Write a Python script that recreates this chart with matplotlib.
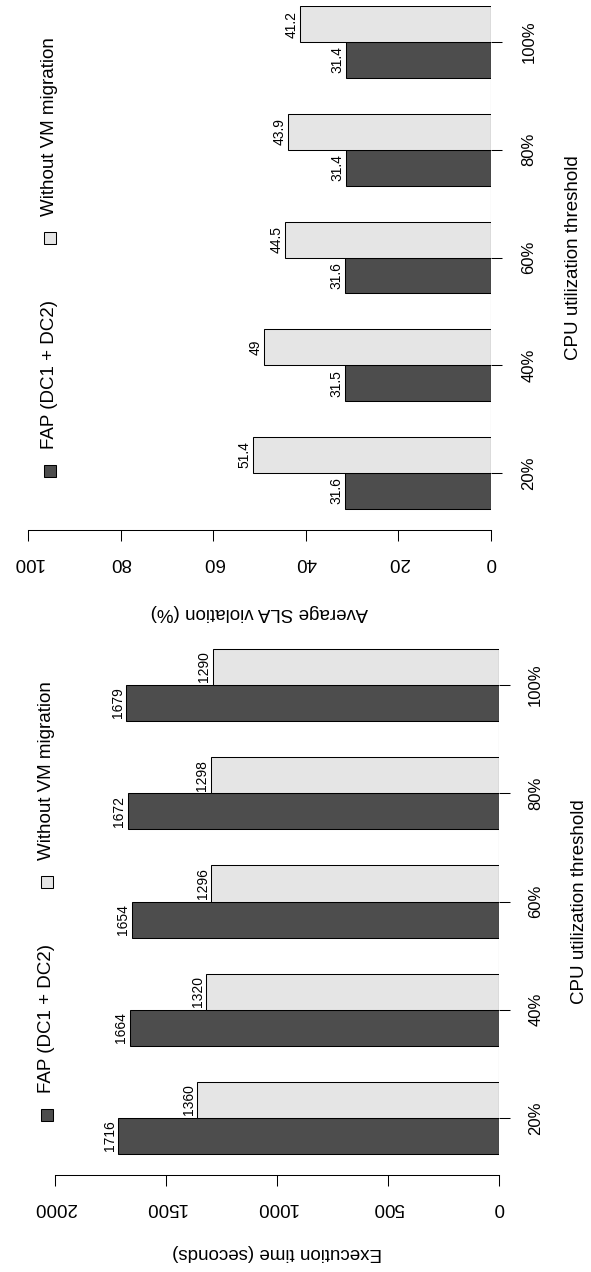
import matplotlib
matplotlib.use("Agg")
import matplotlib.pyplot as plt
from matplotlib.patches import Rectangle

plt.rcParams["font.family"] = ["Liberation Sans", "DejaVu Sans"]

# Dados (figura girada 90°: categorias na vertical)
limiares = ["20%", "40%", "60%", "80%", "100%"]
series = ["FAP (DC1 + DC2)", "Without VM migration"]
tempo_fap = [1716, 1664, 1654, 1672, 1679]
tempo_sem = [1360, 1320, 1296, 1298, 1290]
sla_fap = [31.6, 31.5, 31.6, 31.4, 31.4]
sla_sem = [51.4, 49, 44.5, 43.9, 41.2]
ticks_tempo = [0, 500, 1000, 1500, 2000]
ticks_sla = [0, 20, 40, 60, 80, 100]

ESCURO = "#4d4d4d"
CLARO = "#e5e5e5"
W, H = 591, 1272
FS = 13.5


def fx(px):
    return px / W


def fy(py):
    return 1 - py / H


fig = plt.figure(figsize=(W / 100, H / 100), dpi=100)


def painel(x0, x1, y_base, y_topo, y_cat0, y_cat4, valores_a, valores_b, ticks, rotulo_x,
           y_rotulo, x_cpu, leg_x, leg_y, pad_cat):
    passo = (y_cat0 - y_cat4) / 4
    ax = fig.add_axes([fx(x0), fy(y_base), (x1 - x0) / W, (y_base - y_topo) / H])
    pos = list(range(len(limiares)))
    h = 1 / 3
    ax.barh([p - h / 2 for p in pos], valores_a, height=h, color=ESCURO,
            edgecolor="black", linewidth=0.75)
    ax.barh([p + h / 2 for p in pos], valores_b, height=h, color=CLARO,
            edgecolor="black", linewidth=0.75)
    for p, va, vb in zip(pos, valores_a, valores_b):
        for y, v in ((p - h / 2, va), (p + h / 2, vb)):
            ax.annotate(f"{v:g}", (v, y), xytext=(-1, 0), textcoords="offset points",
                        rotation=90, ha="right", va="center", fontsize=10)
    ax.vlines(0, -h, len(pos) - 1 + h, color="black", linewidth=0.75)

    ax.set_xlim(ticks[-1], 0)
    ax.set_ylim(-(y_base - y_cat0) / passo, 4 + (y_cat4 - y_topo) / passo)
    for s in ("top", "left", "right"):
        ax.spines[s].set_visible(False)
    ax.spines["bottom"].set_linewidth(0.75)
    ax.set_xticks(ticks)
    ax.set_xticklabels([str(t) for t in ticks], rotation=180, fontsize=FS)
    ax.tick_params(axis="x", length=8, width=0.75, pad=9)
    ax.yaxis.tick_right()
    ax.set_yticks(pos)
    ax.set_yticklabels(limiares, rotation=90, va="center", fontsize=12)
    ax.tick_params(axis="y", length=8, width=0.75, pad=pad_cat)

    fig.text(fx((x0 + x1) / 2), fy(y_rotulo), rotulo_x, rotation=180,
             ha="center", va="center", fontsize=FS)
    fig.text(fx(x_cpu), fy((y_cat0 + y_cat4) / 2), "CPU utilization threshold",
             rotation=90, ha="center", va="center", fontsize=FS)

    for nome, cor, ly in zip(series, (ESCURO, CLARO), leg_y):
        fig.patches.append(Rectangle((fx(leg_x - 6), fy(ly + 6)), 12 / W, 12 / H,
                                     transform=fig.transFigure, facecolor=cor,
                                     edgecolor="black", linewidth=0.75))
        fig.text(fx(leg_x), fy(ly - 22), nome, rotation=90, ha="center",
                 va="bottom", fontsize=FS)
    return ax


painel(28, 491, 530, 6, 473, 42, sla_fap, sla_sem, ticks_sla,
       "Average SLA violation (%)", 612, 574, 50, (471, 238), 14)
painel(55, 499, 1175, 648, 1118, 685, tempo_fap, tempo_sem, ticks_tempo,
       "Execution time (seconds)", 1253, 580, 47, (1115, 882), 13)

fig.savefig("out.png", dpi=100)
